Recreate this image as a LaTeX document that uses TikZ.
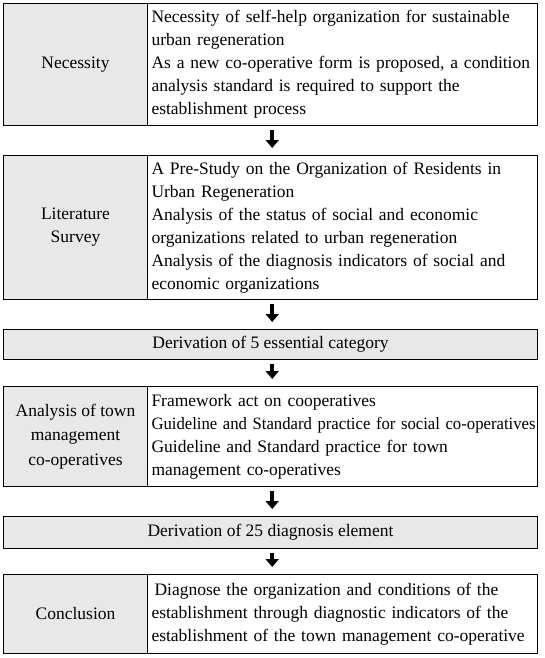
\documentclass[tikz,border=0pt]{standalone}
\usepackage{fontspec}
\setmainfont{Liberation Serif}
\usetikzlibrary{arrows.meta}
\begin{document}
\begin{tikzpicture}[x=1pt,y=-1pt,
  txt/.style={font=\fontsize{17.5}{23}\selectfont},
  lcell/.style={txt, draw, line width=1pt, fill=gray!18, anchor=north west, minimum width=144pt, align=center, inner sep=2pt},
  rcell/.style={txt, draw, line width=1pt, anchor=north west, text width=382pt, inner xsep=4pt, inner ysep=2pt, align=left},
  wide/.style={txt, draw, line width=1pt, fill=gray!18, anchor=north west, minimum width=534pt, align=center},
  rowbox/.style={anchor=north west, minimum width=534pt, inner sep=0pt},
  arr/.style={line width=4pt, -{Triangle[width=13pt,length=8pt]}, shorten <=5pt, shorten >=7pt}]
\useasboundingbox (0,0) rectangle (544,658);
% rows (invisible frames)
\node[rowbox, minimum height=122pt] (r1) at (3,3) {};
\node[rowbox, minimum height=144pt] (r2) at (3,155) {};
\node[rowbox, minimum height=30pt] (r3) at (3,329) {};
\node[rowbox, minimum height=100pt] (r4) at (3,386) {};
\node[rowbox, minimum height=32pt] (r5) at (3,516) {};
\node[rowbox, minimum height=79pt] (r6) at (3,574) {};
% row 1
\node[lcell, minimum height=122pt] (n1) at (3,3) {Necessity};
\node[rcell, minimum height=122pt] (d1) at (147,3) {Necessity of self-help organization for sustainable\\urban regeneration\\As a new co-operative form is proposed, a condition\\analysis standard is required to support the\\establishment process};
% row 2
\node[lcell, minimum height=144pt] (n2) at (3,155) {Literature\\Survey};
\node[rcell, minimum height=144pt] (d2) at (147,155) {A Pre-Study on the Organization of Residents in\\Urban Regeneration\\Analysis of the status of social and economic\\organizations related to urban regeneration\\Analysis of the diagnosis indicators of social and\\economic organizations};
% row 3
\node[wide, minimum height=30pt] (n3) at (3,329) {Derivation of 5 essential category};
% row 4
\node[lcell, minimum height=100pt, font=\fontsize{17.5}{24.5}\selectfont] (n4) at (3,386) {Analysis of town\\management\\co-operatives};
\node[rcell, minimum height=100pt] (d4) at (147,386) {Framework act on cooperatives\\\resizebox{384pt}{12.2pt}{Guideline and Standard practice for social co-operatives}\\Guideline and Standard practice for town\\management co-operatives};
% row 5
\node[wide, minimum height=32pt] (n5) at (3,516) {Derivation of 25 diagnosis element};
% row 6
\node[lcell, minimum height=79pt] (n6) at (3,574) {Conclusion};
\node[rcell, minimum height=79pt] (d6) at (147,574) {\hspace*{3pt}Diagnose the organization and conditions of the\\establishment through diagnostic indicators of the\\establishment of the town management co-operative};
% arrows
\draw[arr] ([xshift=2pt]r1.south) -- ([xshift=2pt]r2.north);
\draw[arr] ([xshift=2pt]r2.south) -- ([xshift=2pt]r3.north);
\draw[arr] ([xshift=2pt]r3.south) -- ([xshift=2pt]r4.north);
\draw[arr] ([xshift=2pt]r4.south) -- ([xshift=2pt]r5.north);
\draw[arr] ([xshift=2pt]r5.south) -- ([xshift=2pt]r6.north);
\end{tikzpicture}
\end{document}
